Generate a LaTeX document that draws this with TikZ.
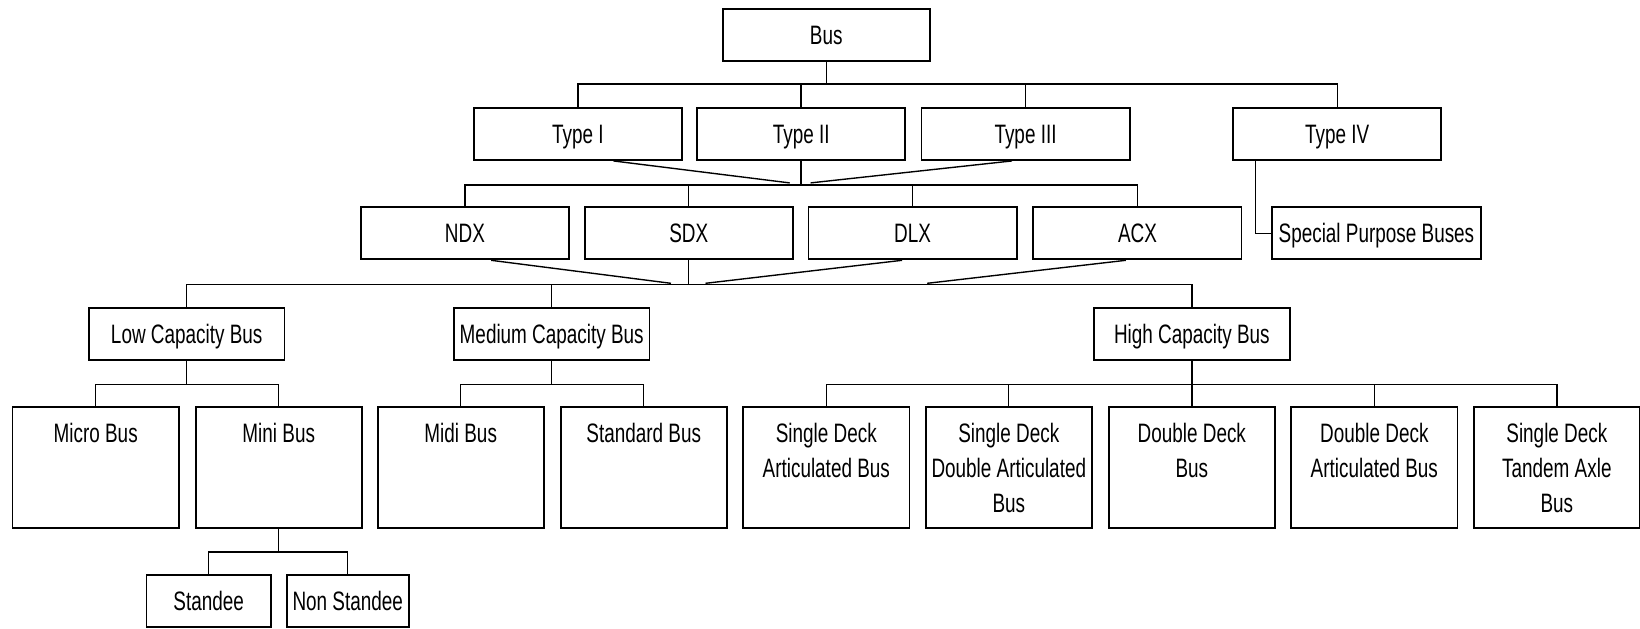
\documentclass[tikz,border=0pt]{standalone}
\usepackage{fontspec}
\setmainfont{Liberation Sans}[FakeStretch=0.71]
\usetikzlibrary{calc}
\tikzset{
  cell/.style={draw, line width=1pt, inner sep=0pt, minimum height=1cm, text height=0.36cm, text depth=0cm, font=\fontsize{14.5}{18.8}\selectfont},
  leaf/.style={draw, line width=1pt, inner sep=0pt, minimum width=3.18cm, minimum height=2.32cm, font=\fontsize{14.5}{18.8}\selectfont},
  link/.style={line width=0.75pt}
}
\newcommand{\cellnode}[5]{\node[cell, minimum width=#4] (#1) at (#2,#3) {#5};}
\newcommand{\leafnode}[4]{\node[leaf] (#1) at (#2,#3) {\parbox[c][1.68cm][t]{3.1cm}{\centering #4}};}

\begin{document}
\begin{tikzpicture}[x=0.02cm, y=-0.02cm]
        \useasboundingbox (0,0) rectangle (1568,601);

        \cellnode{bus}{790}{33.5}{3.96cm}{Bus}

        \cellnode{t1}{552.5}{128}{3.98cm}{Type I}
        \cellnode{t2}{766}{128}{3.98cm}{Type II}
        \cellnode{t3}{980.5}{128}{3.98cm}{Type III}
        \cellnode{t4}{1278.5}{128}{3.98cm}{Type IV}

        \cellnode{n1}{444.5}{223}{3.98cm}{NDX}
        \cellnode{n2}{658.5}{223}{3.98cm}{SDX}
        \cellnode{n3}{872.5}{223}{3.98cm}{DLX}
        \cellnode{n4}{1087.5}{223}{3.98cm}{ACX}
        \cellnode{sp}{1316}{223}{4cm}{Special Purpose Buses}

        \cellnode{c1}{178.5}{319.5}{3.74cm}{Low Capacity Bus}
        \cellnode{c2}{527.5}{319.5}{3.74cm}{Medium Capacity Bus}
        \cellnode{c3}{1139.5}{319.5}{3.74cm}{High Capacity Bus}

        \leafnode{mb}{91.5}{447}{Micro Bus}
        \leafnode{mi}{266.5}{447}{Mini Bus}
        \leafnode{md}{440.5}{447}{Midi Bus}
        \leafnode{sb}{615.5}{447}{Standard Bus}
        \leafnode{sa}{790}{447}{Single Deck\\Articulated Bus}
        \leafnode{sd}{964.5}{447}{Single Deck\\Double Articulated\\Bus}
        \leafnode{db}{1139.5}{447}{Double Deck\\Bus}
        \leafnode{da}{1314}{447}{Double Deck\\Articulated Bus}
        \leafnode{st}{1488.5}{447}{Single Deck\\Tandem Axle\\Bus}

        \cellnode{s1}{199.5}{574.5}{2.38cm}{Standee}
        \cellnode{s2}{332.5}{574.5}{2.34cm}{Non Standee}

        \coordinate (j1) at ($(bus.south)+(0,21)$);
        \draw[link] (bus.south) -- (j1);
        \draw[link] (t1.north) |- (j1) -| (t4.north);
        \draw[link] (t2.north) -- (t2.north |- j1);
        \draw[link] (t3.north) -- (t3.north |- j1);

        \coordinate (j2) at ($(t2.south)+(0,23)$);
        \draw[link] (t2.south) -- (j2);
        \draw[link] (n1.north) |- (j2) -| (n4.north);
        \draw[link] (n2.north) -- (n2.north |- j2);
        \draw[link] (n3.north) -- (n3.north |- j2);
        \draw[link] ($(t1.south)+(34,0)$) -- ($(j2)+(-11,-2)$);
        \draw[link] ($(t3.south)+(-13,0)$) -- ($(j2)+(9,-2)$);

        \draw[link] ($(t4.south west)+(22,0)$) |- (sp.west);

        \coordinate (j3) at ($(n2.south)+(0,23)$);
        \draw[link] (n2.south) -- (j3);
        \draw[link] (c1.north) |- (j3) -| (c3.north);
        \draw[link] (c2.north) -- (c2.north |- j3);
        \draw[link] ($(n1.south)+(25,0)$) -- ($(j3)+(-17,-1)$);
        \draw[link] ($(n3.south)+(-10,0)$) -- ($(j3)+(16,-1)$);
        \draw[link] ($(n4.south)+(-11,0)$) -- ($(j3)+(228,-1)$);

        \coordinate (lj) at ($(c1.south)+(0,22.5)$);
        \draw[link] (c1.south) -- (lj);
        \draw[link] (mb.north) |- (lj) -| (mi.north);

        \coordinate (mj) at ($(c2.south)+(0,22.5)$);
        \draw[link] (c2.south) -- (mj);
        \draw[link] (md.north) |- (mj) -| (sb.north);

        \coordinate (hj) at ($(c3.south)+(0,22.5)$);
        \draw[link] (c3.south) -- (db.north);
        \draw[link] (sa.north) |- (hj) -| (st.north);
        \draw[link] (sd.north) -- (sd.north |- hj);
        \draw[link] (da.north) -- (da.north |- hj);

        \coordinate (sj) at ($(mi.south)+(0,22)$);
        \draw[link] (mi.south) -- (sj);
        \draw[link] (s1.north) |- (sj) -| (s2.north);
\end{tikzpicture}
\end{document}
